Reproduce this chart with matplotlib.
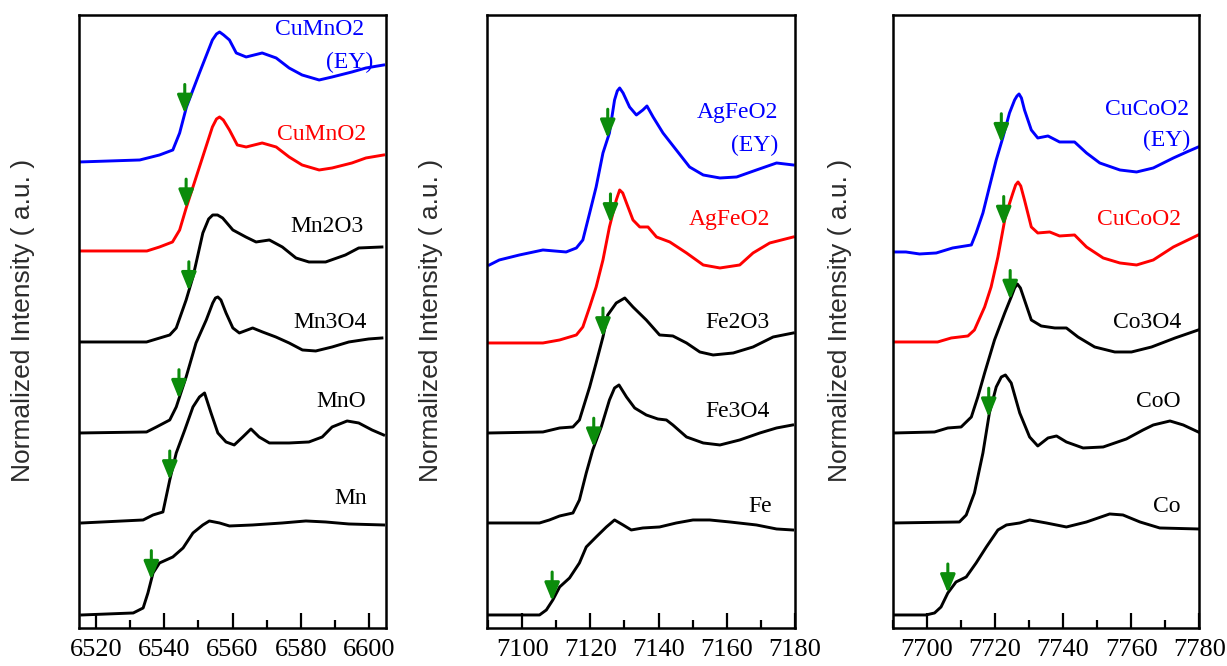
import numpy as np
import matplotlib
matplotlib.use("Agg")
import matplotlib.pyplot as plt
from matplotlib.ticker import MultipleLocator

# ---------------- Mn K-edge panel ----------------
CuMnO2_EY_E = [6515.0, 6532.8, 6538.6, 6542.5, 6544.5, 6546.5, 6550.3, 6554.1, 6555.3, 6556.2, 6557.4,
               6559.1, 6561.1, 6564.0, 6568.7, 6572.8, 6576.6, 6580.4, 6585.4, 6589.2, 6595.0, 6599.1, 6604.3]
CuMnO2_EY_I = [4.66, 4.68, 4.73, 4.78, 4.95, 5.21, 5.55, 5.88, 5.94, 5.96, 5.93,
               5.88, 5.75, 5.71, 5.75, 5.70, 5.60, 5.53, 5.48, 5.51, 5.56, 5.60, 5.63]
CuMnO2_E = [6515.0, 6534.9, 6538.6, 6542.4, 6544.5, 6546.5, 6550.3, 6554.1, 6555.3, 6556.2, 6557.3,
            6559.1, 6561.4, 6564.0, 6568.7, 6572.8, 6576.6, 6580.4, 6585.4, 6589.2, 6595.0, 6599.1, 6604.3]
CuMnO2_I = [3.77, 3.77, 3.81, 3.86, 3.98, 4.21, 4.61, 5.01, 5.09, 5.11, 5.08,
            4.98, 4.83, 4.81, 4.85, 4.81, 4.71, 4.63, 4.58, 4.60, 4.65, 4.70, 4.73]
Mn2O3_E = [6515.3, 6534.8, 6541.6, 6543.5, 6546.4, 6548.4, 6551.3, 6553.0, 6554.2, 6555.6, 6557.1,
           6560.1, 6563.9, 6566.9, 6570.8, 6574.6, 6578.6, 6582.4, 6587.3, 6593.1, 6597.0, 6603.8]
Mn2O3_I = [2.86, 2.86, 2.93, 3.00, 3.28, 3.51, 3.95, 4.09, 4.13, 4.13, 4.10,
           3.98, 3.91, 3.86, 3.88, 3.81, 3.70, 3.66, 3.66, 3.73, 3.80, 3.81]
Mn3O4_E = [6515.3, 6534.8, 6537.7, 6541.6, 6543.5, 6546.4, 6549.3, 6552.3, 6554.2, 6555.0, 6555.7,
           6556.6, 6558.1, 6560.1, 6562.0, 6565.9, 6568.8, 6572.7, 6576.6, 6580.5, 6584.4, 6589.2,
           6594.1, 6599.9, 6603.8]
Mn3O4_I = [1.95, 1.96, 2.01, 2.08, 2.21, 2.51, 2.85, 3.08, 3.25, 3.30, 3.31,
           3.28, 3.15, 3.00, 2.95, 3.00, 2.96, 2.91, 2.85, 2.78, 2.77, 2.81,
           2.86, 2.89, 2.90]
MnO_E = [6515.8, 6533.8, 6536.7, 6539.6, 6541.6, 6543.5, 6546.0, 6548.4, 6550.3, 6551.8, 6553.7,
         6555.7, 6558.1, 6560.5, 6563.0, 6565.4, 6567.8, 6570.8, 6576.6, 6582.4, 6586.3, 6589.2,
         6593.6, 6597.0, 6600.9, 6604.3]
MnO_I = [1.05, 1.08, 1.13, 1.16, 1.48, 1.75, 1.98, 2.21, 2.31, 2.35, 2.15,
         1.95, 1.86, 1.83, 1.91, 1.99, 1.91, 1.85, 1.85, 1.86, 1.91, 2.01,
         2.07, 2.05, 1.98, 1.93]
Mn_E = [6515.8, 6530.9, 6533.8, 6535.2, 6536.7, 6538.6, 6542.5, 6545.5, 6548.4, 6551.3, 6553.2,
        6556.2, 6559.1, 6565.9, 6574.6, 6581.5, 6587.3, 6594.1, 6604.3]
Mn_I = [0.13, 0.15, 0.20, 0.35, 0.55, 0.65, 0.71, 0.80, 0.95, 1.03, 1.07,
        1.05, 1.02, 1.03, 1.05, 1.07, 1.06, 1.04, 1.03]
MN_EDGES = [6546.0, 6546.4, 6547.2, 6544.3, 6541.6, 6536.2]
MN_TICKS = [6520, 6540, 6560, 6580, 6600]
MN_TEXTS = [("CuMnO2", 6598.5, 5.98, "blue"), ("(EY)", 6601.4, 5.66, "blue"),
            ("CuMnO2", 6599.1, 4.93, "red"), ("Mn2O3", 6598.5, 4.01, "black"),
            ("Mn3O4", 6599.4, 3.05, "black"), ("MnO", 6599.1, 2.26, "black"),
            ("Mn", 6599.4, 1.29, "black")]

# ---------------- Fe K-edge panel ----------------
AgFeO2_EY_E = [7090.4, 7093.3, 7099.2, 7106.1, 7112.9, 7115.9, 7117.8, 7119.8, 7121.7, 7123.7, 7125.6,
               7127.1, 7127.9, 7128.6, 7129.6, 7131.5, 7133.5, 7135.4, 7136.6, 7138.4, 7141.3, 7145.2,
               7149.1, 7153.1, 7158.0, 7162.9, 7168.7, 7174.6, 7179.5]
AgFeO2_EY_I = [3.63, 3.68, 3.73, 3.78, 3.76, 3.80, 3.88, 4.15, 4.41, 4.75, 4.95,
               5.28, 5.37, 5.40, 5.35, 5.21, 5.13, 5.18, 5.22, 5.11, 4.95, 4.78,
               4.61, 4.53, 4.50, 4.51, 4.58, 4.65, 4.63]
AgFeO2_E = [7090.4, 7106.1, 7111.0, 7115.9, 7117.8, 7119.8, 7121.7, 7123.7, 7125.6, 7127.6, 7128.6,
            7129.5, 7130.6, 7132.5, 7134.5, 7136.9, 7139.4, 7143.3, 7148.2, 7153.1, 7158.0, 7163.8,
            7167.7, 7172.6, 7179.5]
AgFeO2_I = [2.85, 2.85, 2.88, 2.93, 3.01, 3.21, 3.41, 3.68, 4.01, 4.28, 4.38,
            4.35, 4.25, 4.08, 4.01, 4.01, 3.91, 3.86, 3.75, 3.63, 3.60, 3.63,
            3.75, 3.85, 3.91]
Fe2O3_E = [7090.4, 7106.1, 7111.0, 7114.9, 7116.8, 7119.8, 7121.7, 7123.7, 7125.1, 7127.6, 7130.1,
           7132.5, 7136.4, 7140.3, 7144.2, 7148.2, 7152.1, 7156.0, 7161.9, 7167.7, 7173.6, 7179.5]
Fe2O3_I = [1.95, 1.96, 2.00, 2.01, 2.08, 2.41, 2.65, 2.91, 3.13, 3.25, 3.30,
           3.21, 3.08, 2.93, 2.92, 2.85, 2.76, 2.73, 2.75, 2.81, 2.91, 2.95]
Fe3O4_E = [7090.2, 7105.1, 7108.0, 7111.0, 7114.9, 7116.8, 7118.8, 7120.7, 7123.2, 7125.6, 7127.1,
           7128.4, 7130.6, 7133.0, 7136.4, 7139.8, 7142.3, 7144.2, 7148.2, 7153.1, 7158.0, 7163.8,
           7169.7, 7174.6, 7179.3]
Fe3O4_I = [1.05, 1.05, 1.08, 1.12, 1.15, 1.28, 1.55, 1.78, 2.01, 2.28, 2.40,
           2.43, 2.31, 2.20, 2.13, 2.09, 2.08, 2.03, 1.91, 1.85, 1.83, 1.88,
           1.95, 2.00, 2.03]
Fe_E = [7090.2, 7105.1, 7107.1, 7109.0, 7111.0, 7113.9, 7116.8, 7118.8, 7121.7, 7124.7, 7127.1,
        7129.6, 7132.0, 7135.4, 7140.3, 7145.2, 7150.1, 7155.0, 7160.9, 7168.7, 7174.6, 7179.3]
Fe_I = [0.13, 0.13, 0.18, 0.28, 0.41, 0.50, 0.65, 0.81, 0.91, 1.01, 1.08,
        1.03, 0.98, 1.00, 1.01, 1.05, 1.08, 1.08, 1.06, 1.03, 0.99, 0.98]
FE_EDGES = [7125.1, 7125.9, 7123.7, 7121.0, 7108.8]
FE_TICKS = [7100, 7120, 7140, 7160, 7180]
FE_TEXTS = [("AgFeO2", 7175.0, 5.15, "blue"), ("(EY)", 7175.0, 4.83, "blue"),
            ("AgFeO2", 7172.6, 4.08, "red"), ("Fe2O3", 7172.6, 3.05, "black"),
            ("Fe3O4", 7172.6, 2.16, "black"), ("Fe", 7173.2, 1.21, "black")]

# ---------------- Co K-edge panel ----------------
CuCoO2_EY_E = [7690.0, 7693.9, 7697.9, 7702.8, 7707.6, 7713.1, 7714.5, 7716.5, 7718.4, 7720.4, 7722.4,
               7724.3, 7725.8, 7726.5, 7727.1, 7727.8, 7728.7, 7730.7, 7732.6, 7735.6, 7739.0, 7743.4,
               7746.9, 7750.8, 7756.7, 7761.6, 7766.5, 7772.4, 7776.3, 7779.7]
CuCoO2_EY_I = [3.76, 3.76, 3.74, 3.75, 3.80, 3.83, 3.95, 4.15, 4.41, 4.68, 4.91,
               5.15, 5.28, 5.32, 5.34, 5.30, 5.18, 4.98, 4.90, 4.92, 4.86, 4.86,
               4.75, 4.65, 4.58, 4.56, 4.60, 4.70, 4.76, 4.81]
CuCoO2_E = [7690.5, 7703.2, 7707.2, 7712.1, 7714.0, 7717.0, 7718.9, 7720.9, 7722.9, 7723.4, 7725.3,
            7726.1, 7726.8, 7727.6, 7728.7, 7730.7, 7732.6, 7736.1, 7739.0, 7743.4, 7746.9, 7751.8,
            7756.7, 7761.6, 7766.5, 7772.4, 7779.7]
CuCoO2_I = [2.86, 2.86, 2.90, 2.92, 2.98, 3.21, 3.41, 3.71, 4.08, 4.15, 4.35,
            4.43, 4.46, 4.42, 4.28, 4.01, 3.95, 3.96, 3.92, 3.93, 3.81, 3.70,
            3.65, 3.63, 3.68, 3.81, 3.93]
Co3O4_E = [7690.5, 7702.3, 7706.2, 7710.1, 7713.1, 7715.0, 7717.0, 7719.9, 7722.9, 7724.8, 7725.8,
           7726.6, 7727.5, 7728.7, 7730.7, 7733.6, 7737.6, 7741.0, 7744.4, 7749.3, 7755.2, 7760.1,
           7766.0, 7772.9, 7779.7]
Co3O4_I = [1.95, 1.96, 2.00, 2.01, 2.11, 2.31, 2.55, 2.88, 3.15, 3.31, 3.40,
           3.44, 3.40, 3.28, 3.08, 3.02, 3.00, 3.00, 2.91, 2.81, 2.76, 2.76,
           2.81, 2.90, 2.98]
CoO_E = [7690.2, 7709.6, 7711.6, 7714.0, 7716.5, 7718.4, 7720.4, 7721.9, 7723.1, 7724.8, 7727.3,
         7730.2, 7732.6, 7735.6, 7738.1, 7741.0, 7745.9, 7751.8, 7758.6, 7763.5, 7766.5, 7771.4,
         7775.3, 7779.7]
CoO_I = [1.05, 1.06, 1.13, 1.35, 1.75, 2.15, 2.41, 2.51, 2.53, 2.45, 2.15,
         1.91, 1.82, 1.90, 1.92, 1.86, 1.80, 1.81, 1.89, 1.98, 2.03, 2.07,
         2.03, 1.96]
Co_E = [7690.2, 7699.8, 7702.3, 7704.2, 7706.2, 7708.6, 7711.6, 7714.5, 7717.5, 7720.9, 7723.4,
        7727.3, 7730.2, 7735.1, 7741.0, 7746.9, 7753.7, 7757.6, 7762.6, 7768.4, 7779.7]
Co_I = [0.13, 0.13, 0.15, 0.21, 0.35, 0.46, 0.51, 0.65, 0.81, 0.98, 1.03,
        1.05, 1.08, 1.05, 1.01, 1.06, 1.14, 1.13, 1.06, 1.00, 0.99]
CO_EDGES = [7721.9, 7722.6, 7724.5, 7718.2, 7706.2]
CO_TICKS = [7700, 7720, 7740, 7760, 7780]
CO_TEXTS = [("CuCoO2", 7777.0, 5.18, "blue"), ("(EY)", 7777.3, 4.88, "blue"),
            ("CuCoO2", 7774.6, 4.08, "red"), ("Co3O4", 7774.6, 3.05, "black"),
            ("CoO", 7774.6, 2.26, "black"), ("Co", 7774.6, 1.21, "black")]

YLABEL = "Normalized Intensity ( a.u. )"

# ---------------- styling ----------------
SERIF = "Liberation Serif"
SANS = "Liberation Sans"
GREEN = "#0b8c0b"
COLORS = {"blue": "#0000ff", "red": "#ff0000", "black": "black"}

panels = [
    dict(pos=[0.0644, 0.0571, 0.2502, 0.9204], xlim=(6515, 6605), ticks=MN_TICKS,
         curves=[(CuMnO2_EY_E, CuMnO2_EY_I, "blue"), (CuMnO2_E, CuMnO2_I, "red"),
                 (Mn2O3_E, Mn2O3_I, "black"), (Mn3O4_E, Mn3O4_I, "black"),
                 (MnO_E, MnO_I, "black"), (Mn_E, Mn_I, "black")],
         edges=MN_EDGES, texts=MN_TEXTS, ylabel_px=23),
    dict(pos=[0.3969, 0.0571, 0.2510, 0.9204], xlim=(7089.7, 7180), ticks=FE_TICKS,
         curves=[(AgFeO2_EY_E, AgFeO2_EY_I, "blue"), (AgFeO2_E, AgFeO2_I, "red"),
                 (Fe2O3_E, Fe2O3_I, "black"), (Fe3O4_E, Fe3O4_I, "black"), (Fe_E, Fe_I, "black")],
         edges=FE_EDGES, texts=FE_TEXTS, ylabel_px=431),
    dict(pos=[0.7275, 0.0571, 0.2499, 0.9204], xlim=(7690, 7780), ticks=CO_TICKS,
         curves=[(CuCoO2_EY_E, CuCoO2_EY_I, "blue"), (CuCoO2_E, CuCoO2_I, "red"),
                 (Co3O4_E, Co3O4_I, "black"), (CoO_E, CoO_I, "black"), (Co_E, Co_I, "black")],
         edges=CO_EDGES, texts=CO_TEXTS, ylabel_px=840),
]

W, H = 1227, 666
fig = plt.figure(figsize=(W / 100, H / 100), dpi=100)

for p in panels:
    ax = fig.add_axes(p["pos"])
    for (xe, yi, col), edge in zip(p["curves"], p["edges"]):
        ax.plot(xe, yi, color=COLORS[col], lw=2.1, solid_joinstyle="round")
        tip = float(np.interp(edge, xe, yi))
        ax.annotate("", xy=(edge, tip), xytext=(edge, tip + 0.29),
                    arrowprops=dict(arrowstyle="-|>,head_length=1.1,head_width=0.45",
                                    mutation_scale=10, color=GREEN, lw=2.2,
                                    shrinkA=0, shrinkB=0))
    for s, tx, ty, col in p["texts"]:
        ax.text(tx, ty, s, color=COLORS[col], fontsize=17, family=SERIF,
                ha="right", va="center")
    ax.set_xlim(*p["xlim"])
    ax.set_ylim(0, 6.13)
    ax.set_yticks([])
    ax.xaxis.set_minor_locator(MultipleLocator(10))
    ax.set_xticks(p["ticks"])
    ax.tick_params(axis="x", which="major", direction="in", length=11, width=1.6,
                   labelsize=19, pad=8, top=False)
    ax.tick_params(axis="x", which="minor", direction="in", length=6, width=1.6, top=False)
    for lbl in ax.get_xticklabels():
        lbl.set_family(SERIF)
    for s in ax.spines.values():
        s.set_linewidth(1.8)
    fig.text(p["ylabel_px"] / W, 1 - 320 / H, YLABEL, rotation=90, ha="center", va="center",
             family=SANS, fontsize=19, color="#2b2b2b")

fig.savefig("out.png", dpi=100)
